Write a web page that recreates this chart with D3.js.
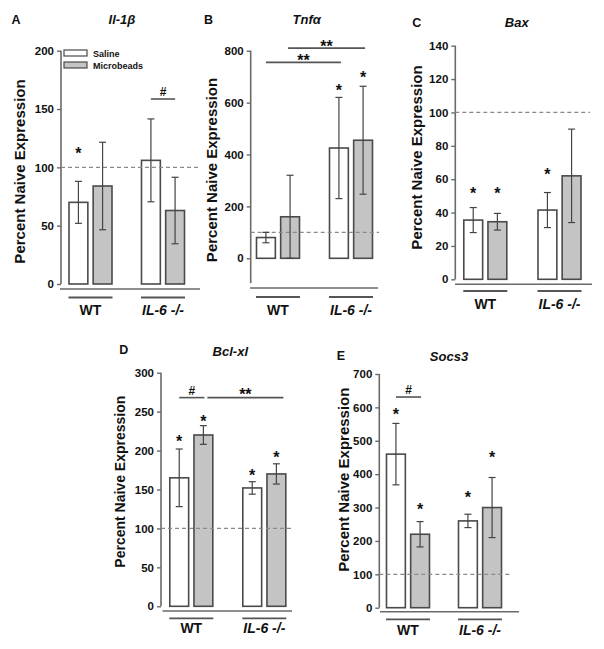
<!DOCTYPE html>
<html><head><meta charset="utf-8">
<script src="https://cdn.jsdelivr.net/npm/d3@7"></script>
<style>
html,body{margin:0;padding:0;background:#fff;}
svg{display:block;font-family:"Liberation Sans",Arial,sans-serif;}
</style></head>
<body><svg id="chart" width="604" height="649"></svg>
<script>
// ---------- data ----------
const groups = ["WT", "IL-6 -/-"];
const series = ["Saline", "Microbeads"];

const il1bSaline = [70, 106];   const il1bSalineErr = [18, 35.5];
const il1bMicro  = [84, 63];    const il1bMicroErr  = [37.5, 28.5];
const il1bTicks  = [0, 50, 100, 150, 200];

const tnfaSaline = [80, 425];   const tnfaSalineErr = [20, 195];
const tnfaMicro  = [160, 455];  const tnfaMicroErr  = [160, 208];
const tnfaTicks  = [0, 200, 400, 600, 800];

const baxSaline = [35.5, 41.5]; const baxSalineErr = [7.5, 10.5];
const baxMicro  = [34.5, 62];   const baxMicroErr  = [5, 28];
const baxTicks  = [0, 20, 40, 60, 80, 100, 120, 140];

const bclSaline = [165, 152];   const bclSalineErr = [37, 8];
const bclMicro  = [220, 170];   const bclMicroErr  = [12, 13];
const bclTicks  = [0, 50, 100, 150, 200, 250, 300];

const socsSaline = [460, 260];  const socsSalineErr = [92, 20];
const socsMicro  = [220, 300];  const socsMicroErr  = [38, 90];
const socsTicks  = [0, 100, 200, 300, 400, 500, 600, 700];

const naiveLevel = 100;

// significance stars: [group, series, value]
const il1bStars = [["WT", "Saline", 115]];
const tnfaStars = [["IL-6 -/-", "Saline", 660], ["IL-6 -/-", "Microbeads", 709]];
const baxStars  = [["WT", "Saline", 53.5], ["WT", "Microbeads", 53.5], ["IL-6 -/-", "Saline", 65]];
const bclStars  = [["WT", "Saline", 216], ["WT", "Microbeads", 241.5], ["IL-6 -/-", "Saline", 173], ["IL-6 -/-", "Microbeads", 195.6]];
const socsStars = [["WT", "Saline", 589], ["WT", "Microbeads", 305], ["IL-6 -/-", "Saline", 339.5], ["IL-6 -/-", "Microbeads", 459]];

// comparison bars: [fromGroup, fromSeries, toGroup, toSeries, value, label]
const il1bComps = [["IL-6 -/-", "Saline", "IL-6 -/-", "Microbeads", 158.6, "#"]];
const tnfaComps = [["WT", "Saline", "IL-6 -/-", "Saline", 755, "**"], ["WT", "Microbeads", "IL-6 -/-", "Microbeads", 810, "**"]];
const baxComps  = [];
const bclComps  = [["WT", "Saline", "WT", "Microbeads", 268, "#"], ["WT", "Microbeads", "IL-6 -/-", "Microbeads", 268, "**"]];
const socsComps = [["WT", "Saline", "WT", "Microbeads", 631, "#"]];

// ---------- layout ----------
const panels = [
  {letter:"A", gene:"Il-1β", saline:il1bSaline, sErr:il1bSalineErr, micro:il1bMicro, mErr:il1bMicroErr,
   ticks:il1bTicks, stars:il1bStars, comps:il1bComps, axisX:61, yR:[284,50.7], axisLow:0,
   baseY:289, baseX:[60,200], centers:[90.5,163], underY:297.5, labelY:315, dashEnd:200,
   ylab:[24.5,171.5,15], titlePos:[122,24], let:[11.5,23.5], legend:true, compShift:[[0,0]]},
  {letter:"B", gene:"Tnfα", saline:tnfaSaline, sErr:tnfaSalineErr, micro:tnfaMicro, mErr:tnfaMicroErr,
   ticks:tnfaTicks, stars:tnfaStars, comps:tnfaComps, axisX:250.7, yR:[258.3,50.7], axisLow:-96,
   baseY:288, baseX:[250,378], centers:[278,351], underY:297, labelY:315, dashEnd:379,
   ylab:[217,170,15], titlePos:[306.7,24], let:[204,24], compShift:[[0,2],[-2,2]], compGap:5.5},
  {letter:"C", gene:"Bax", saline:baxSaline, sErr:baxSalineErr, micro:baxMicro, mErr:baxMicroErr,
   ticks:baxTicks, stars:baxStars, comps:baxComps, axisX:455.3, yR:[279.3,45.7], axisLow:0,
   baseY:284.3, baseX:[455,592], centers:[485.3,559.5], underY:291, labelY:308.5, dashEnd:590,
   ylab:[422,157.5,15], titlePos:[516.7,27], let:[412.3,27]},
  {letter:"D", gene:"Bcl-xl", saline:bclSaline, sErr:bclSalineErr, micro:bclMicro, mErr:bclMicroErr,
   ticks:bclTicks, stars:bclStars, comps:bclComps, axisX:161, yR:[606.3,372.7], axisLow:0,
   baseY:611, baseX:[162.5,292], centers:[191.3,264.3], underY:618.3, labelY:632.5, dashEnd:292,
   ylab:[125,481.7,14], titlePos:[230.3,356], let:[119.3,354], compShift:[[0,1],[4,7]]},
  {letter:"E", gene:"Socs3", saline:socsSaline, sErr:socsSalineErr, micro:socsMicro, mErr:socsMicroErr,
   ticks:socsTicks, stars:socsStars, comps:socsComps, axisX:379.3, yR:[607.7,374], axisLow:0,
   baseY:611.7, baseX:[380,519], centers:[408,480], underY:619.3, labelY:635, dashEnd:510,
   ylab:[349,479.7,15], titlePos:[449,361], let:[336.7,360], compShift:[[0,1]]}
];

const AXIS = "#6a6a6a", BAR_STROKE = "#4a4a4a", MICRO_FILL = "#c4c4c4", TXT = "#111";
const svg = d3.select("#chart");

panels.forEach(p => {
  const g = svg.append("g");
  const maxT = p.ticks[p.ticks.length - 1];
  const y = d3.scaleLinear().domain([0, maxT]).range(p.yR);
  const xg = d3.scalePoint().domain(groups).range(p.centers);
  const xs = d3.scaleBand().domain(series).range([-21.5, 21.5]).paddingInner(0.22);
  const bx = (grp, s) => xg(grp) + xs(s);
  const bc = (grp, s) => bx(grp, s) + xs.bandwidth() / 2;

  // y axis
  const axis = d3.axisLeft(y).tickValues(p.ticks).tickSize(4).tickPadding(3).tickSizeOuter(0);
  const ag = g.append("g").attr("transform", `translate(${p.axisX},0)`).call(axis);
  ag.select(".domain").remove();
  ag.append("line").attr("x1",0).attr("x2",0).attr("y1",y(maxT)).attr("y2",y(p.axisLow))
    .attr("stroke",AXIS).attr("stroke-width",1.6);
  ag.selectAll(".tick line").attr("stroke",AXIS).attr("stroke-width",1.4);
  ag.selectAll(".tick text").attr("fill",TXT).style("font-size","11.5px").style("font-weight","bold")
    .style("font-family",'"Liberation Sans",Arial,sans-serif');

  // baseline and group underlines
  g.append("line").attr("x1",p.baseX[0]).attr("x2",p.baseX[1]).attr("y1",p.baseY).attr("y2",p.baseY)
    .attr("stroke",AXIS).attr("stroke-width",1.6);
  groups.forEach(grp => {
    g.append("line").attr("x1",xg(grp)-22).attr("x2",xg(grp)+22).attr("y1",p.underY).attr("y2",p.underY)
      .attr("stroke","#555").attr("stroke-width",1.8);
    g.append("text").attr("x",xg(grp)).attr("y",p.labelY).attr("text-anchor","middle")
      .attr("fill",TXT).style("font-size","14px").style("font-weight","bold")
      .style("font-style", grp === "WT" ? "normal" : "italic").text(grp);
  });

  // bars
  const rows = [];
  groups.forEach((grp, i) => {
    rows.push({grp, s:"Saline", v:p.saline[i], e:p.sErr[i]});
    rows.push({grp, s:"Microbeads", v:p.micro[i], e:p.mErr[i]});
  });
  g.selectAll("rect.bar").data(rows).enter().append("rect").attr("class","bar")
    .attr("x", d => bx(d.grp, d.s)).attr("width", xs.bandwidth())
    .attr("y", d => y(d.v)).attr("height", d => y(0) - y(d.v))
    .attr("fill", d => d.s === "Saline" ? "#fff" : MICRO_FILL)
    .attr("stroke", BAR_STROKE).attr("stroke-width", 1.6);

  // dashed naive line
  g.append("line").attr("x1",p.axisX).attr("x2",p.dashEnd).attr("y1",y(naiveLevel)).attr("y2",y(naiveLevel))
    .attr("stroke","#8a8a8a").attr("stroke-width",1.2).attr("stroke-dasharray","4,3");

  // error bars
  rows.forEach(d => {
    const cx = bc(d.grp, d.s);
    const lo = y(d.v - d.e), hi = y(d.v + d.e);
    g.append("line").attr("x1",cx).attr("x2",cx).attr("y1",lo).attr("y2",hi).attr("stroke","#444").attr("stroke-width",1.2);
    [lo, hi].forEach(yy => g.append("line").attr("x1",cx-3.5).attr("x2",cx+3.5).attr("y1",yy).attr("y2",yy)
      .attr("stroke","#444").attr("stroke-width",1.2));
  });

  // stars
  p.stars.forEach(([grp, s, v]) => {
    g.append("text").attr("x", bc(grp, s)).attr("y", y(v) + 9).attr("text-anchor","middle")
      .attr("fill",TXT).style("font-size","16px").style("font-weight","bold").text("*");
  });

  // comparisons
  p.comps.forEach(([g1, s1, g2, s2, v, lab], i) => {
    const sh = (p.compShift && p.compShift[i]) || [0,0];
    const x1 = bc(g1, s1) + sh[0], x2 = bc(g2, s2) + sh[1];
    const yy = y(v);
    g.append("line").attr("x1",x1).attr("x2",x2).attr("y1",yy).attr("y2",yy).attr("stroke","#555").attr("stroke-width",1.6);
    if (lab === "#") {
      g.append("text").attr("x",(x1+x2)/2).attr("y",yy-3).attr("text-anchor","middle")
        .attr("fill",TXT).style("font-size","12px").style("font-weight","bold").text("#");
    } else {
      const gap = p.compGap || 7;
      g.append("text").attr("x",(x1+x2)/2).attr("y",yy-gap+9).attr("text-anchor","middle")
        .attr("fill",TXT).style("font-size","16px").style("font-weight","bold").text(lab);
    }
  });

  // titles
  g.append("text").attr("transform",`translate(${p.ylab[0]},${p.ylab[1]}) rotate(-90)`).attr("text-anchor","middle")
    .attr("fill",TXT).style("font-size",p.ylab[2]+"px").style("font-weight","bold").text("Percent Naive Expression");
  g.append("text").attr("x",p.titlePos[0]).attr("y",p.titlePos[1]).attr("text-anchor","middle").attr("fill",TXT)
    .style("font-size","13px").style("font-weight","bold").style("font-style","italic").text(p.gene);
  g.append("text").attr("x",p.let[0]).attr("y",p.let[1]).attr("fill",TXT)
    .style("font-size","12.5px").style("font-weight","bold").text(p.letter);

  // legend
  if (p.legend) {
    series.forEach((s, i) => {
      g.append("rect").attr("x",64).attr("y",50 + i*12).attr("width",23).attr("height",6)
        .attr("fill", s === "Saline" ? "#fff" : MICRO_FILL).attr("stroke",BAR_STROKE).attr("stroke-width",1.2);
      g.append("text").attr("x",93).attr("y",57 + i*12).attr("fill",TXT)
        .style("font-size","9px").style("font-weight","bold").text(s);
    });
  }
});
</script>
</body></html>
